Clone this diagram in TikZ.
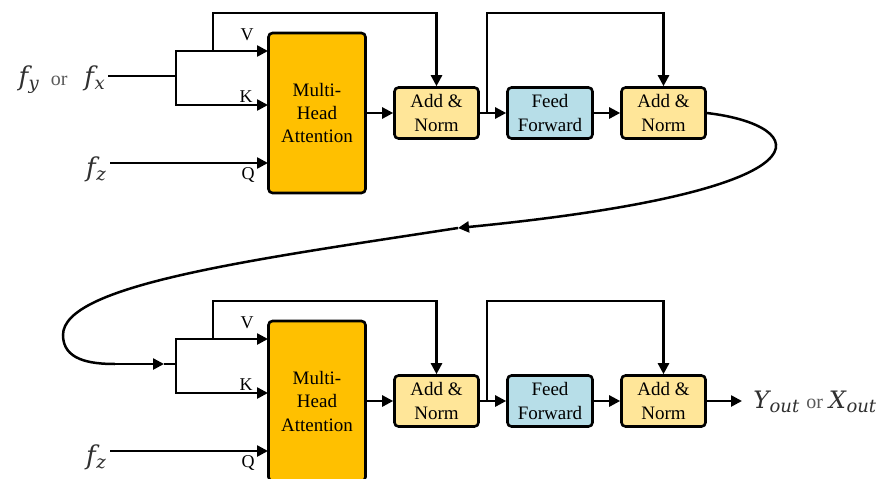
\documentclass[tikz,border=0pt]{standalone}
\usepackage{fontspec}
\setmainfont{Liberation Serif}
\newfontfamily\mfont{DejaVu Serif}
\usetikzlibrary{arrows.meta}
\definecolor{mhac}{HTML}{FFC000}
\definecolor{anc}{HTML}{FFE699}
\definecolor{ffc}{HTML}{B7DEE8}
\definecolor{mathc}{HTML}{303030}
\newcommand{\mvar}[4]{{\mfont\itshape\fontsize{#3}{#3}\selectfont #1}\kern0.5pt\raisebox{-4pt}{\mfont\itshape\fontsize{#4}{#4}\selectfont #2}}
\newcommand{\orword}{{\color{mathc!80}\fontsize{20}{22}\selectfont or}}
\begin{document}
\begin{tikzpicture}[x=1pt,y=-1pt,
  line width=2.5pt,
  arr/.style={-{Triangle[length=11pt,width=11pt]}},
  box/.style={draw=black, line width=2.6pt, rounded corners=4pt, align=center,
    font=\fontsize{19}{23.5}\selectfont, inner sep=0pt},
  mha/.style={box, fill=mhac, minimum width=97pt, minimum height=160pt},
  an/.style={box, fill=anc, minimum width=84pt, minimum height=51pt},
  ff/.style={box, fill=ffc, minimum width=85pt, minimum height=51pt},
  lbl/.style={font=\fontsize{18}{20}\selectfont, inner sep=0pt},
  mth/.style={text=mathc, inner sep=0pt}
]
\useasboundingbox (0,0) rectangle (892,479);

% ---------- top block ----------
\node[mha] (mha1) at (317,113) {Multi-\\Head\\Attention};
\node[an] (an1) at (436.5,113) {Add \&\\Norm};
\node[ff] (ff1) at (550,113) {Feed\\Forward};
\node[an] (an2) at (663.5,113) {Add \&\\Norm};

\node[mth, anchor=base east] (fin) at (106,85) {\mvar{f}{y}{26}{18}\hspace{12pt}\orword\hspace{17pt}\mvar{f}{x}{26}{18}};
\node[mth, anchor=base east] (fz1) at (107,176) {\mvar{f}{z}{26}{18}};

\node[lbl] (v1l) at (247,35) {V};
\node[lbl] (k1l) at (246,97) {K};
\node[lbl] (q1l) at (248,175) {Q};

\coordinate (a1) at (108,76);
\coordinate (b1) at (176,76);
\coordinate (v1) at (268,51);
\coordinate (k1) at (268,105);
\coordinate (q1) at (268,163);
\coordinate (z1) at (110,163);
\coordinate (s1) at (213,51);
\coordinate (t1) at (213,13);
\coordinate (s2) at (487,113);
\coordinate (t2) at (487,13);

\draw (a1) -- (b1);
\draw[arr] (b1) |- (v1);
\draw[arr] (b1) |- (k1);
\draw[arr] (z1) -- (q1);
\draw[arr] (s1) -- (t1) -| (an1.north);
\draw[arr] (mha1.east) -- (an1.west);
\draw[arr] (an1.east) -- (ff1.west);
\draw[arr] (ff1.east) -- (an2.west);
\draw[arr] (s2) -- (t2) -| (an2.north);

% ---------- connecting curve ----------
\coordinate (m1) at (458,228);
\coordinate (c3) at (63,335);
\coordinate (c4) at (115,364);
\coordinate (m2) at (164,364);
\coordinate (b2) at (176,364);
\draw[arr] (an2.east) .. controls (810,125) and (845,190) .. (m1);
\draw (m1) .. controls (250,260) and (63,285) .. (c3)
           .. controls (63,360) and (90,364) .. (c4);
\draw[arr] (c4) -- (m2);
\draw (m2) -- (b2);

% ---------- bottom block ----------
\node[mha] (mha2) at (317,401) {Multi-\\Head\\Attention};
\node[an] (an3) at (436.5,401) {Add \&\\Norm};
\node[ff] (ff2) at (550,401) {Feed\\Forward};
\node[an] (an4) at (663.5,401) {Add \&\\Norm};

\node[mth, anchor=base east] (fz2) at (107,464) {\mvar{f}{z}{26}{18}};
\node[mth, anchor=base west] (out) at (752,408) {\mvar{Y}{out}{24}{18}\hspace{7pt}\orword\hspace{6pt}\mvar{X}{out}{24}{18}};

\node[lbl] (v2l) at (247,323) {V};
\node[lbl] (k2l) at (246,385) {K};
\node[lbl] (q2l) at (248,463) {Q};

\coordinate (v2) at (268,339);
\coordinate (k2) at (268,393);
\coordinate (q2) at (268,451);
\coordinate (z2) at (110,451);
\coordinate (s3) at (213,339);
\coordinate (t3) at (213,301);
\coordinate (s4) at (487,401);
\coordinate (t4) at (487,301);
\coordinate (o1) at (742,401);

\draw[arr] (b2) |- (v2);
\draw[arr] (b2) |- (k2);
\draw[arr] (z2) -- (q2);
\draw[arr] (s3) -- (t3) -| (an3.north);
\draw[arr] (mha2.east) -- (an3.west);
\draw[arr] (an3.east) -- (ff2.west);
\draw[arr] (ff2.east) -- (an4.west);
\draw[arr] (s4) -- (t4) -| (an4.north);
\draw[arr] (an4.east) -- (o1);
\end{tikzpicture}
\end{document}
